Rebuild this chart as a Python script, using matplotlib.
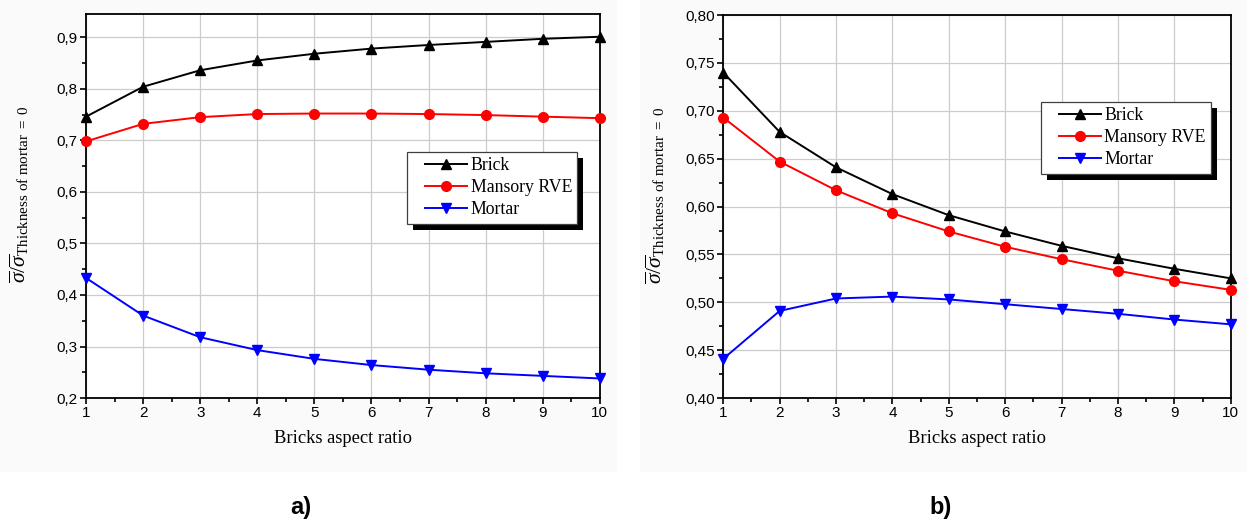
import matplotlib
matplotlib.use("Agg")
import matplotlib.pyplot as plt
from matplotlib.ticker import FuncFormatter, MultipleLocator
from matplotlib.patches import Rectangle
from matplotlib.legend_handler import HandlerLine2D

plt.rcParams['font.family'] = ['Liberation Sans', 'DejaVu Sans']
plt.rcParams['mathtext.fontset'] = 'custom'
plt.rcParams['mathtext.rm'] = 'Liberation Serif'
plt.rcParams['mathtext.it'] = 'Liberation Serif:italic'
plt.rcParams['mathtext.bf'] = 'Liberation Serif:bold'
plt.rcParams['mathtext.sf'] = 'Liberation Sans'

aspect_ratio = [1, 2, 3, 4, 5, 6, 7, 8, 9, 10]

# panel a)
brick_a = [0.746, 0.804, 0.836, 0.855, 0.868, 0.878, 0.885, 0.891, 0.897, 0.901]
masonry_a = [0.698, 0.732, 0.745, 0.751, 0.752, 0.752, 0.751, 0.749, 0.746, 0.743]
mortar_a = [0.433, 0.360, 0.318, 0.293, 0.276, 0.264, 0.255, 0.248, 0.243, 0.238]

# panel b)
brick_b = [0.740, 0.678, 0.641, 0.613, 0.591, 0.574, 0.559, 0.546, 0.535, 0.525]
masonry_b = [0.693, 0.647, 0.617, 0.593, 0.574, 0.558, 0.545, 0.533, 0.522, 0.513]
mortar_b = [0.441, 0.491, 0.504, 0.506, 0.503, 0.498, 0.493, 0.488, 0.482, 0.477]

labels = ["Brick", "Mansory RVE", "Mortar"]
panel_labels = ["a)", "b)"]

fig = plt.figure(figsize=(12.47, 5.21), dpi=100)
fig.patch.set_facecolor('white')

# faint backgrounds of the original panels
fig.patches.append(Rectangle((0.0, 0.095), 0.495, 0.905, transform=fig.transFigure,
                             facecolor='#fafafa', edgecolor='none', zorder=-5))
fig.patches.append(Rectangle((0.513, 0.095), 0.487, 0.905, transform=fig.transFigure,
                             facecolor='#fafafa', edgecolor='none', zorder=-5))

ax1 = fig.add_axes([0.069, 0.236, 0.412, 0.737])
ax2 = fig.add_axes([0.580, 0.236, 0.407, 0.735])

ylabel = r'$\overline{\sigma}/\overline{\sigma}_{\mathrm{Thickness\ of\ mortar\ =\ 0}}$'


def style(ax, ylim, major, minor, fmt, lx):
    ax.set_xlim(1, 10)
    ax.set_ylim(*ylim)
    ax.xaxis.set_major_locator(MultipleLocator(1))
    ax.xaxis.set_minor_locator(MultipleLocator(0.5))
    ax.yaxis.set_major_locator(MultipleLocator(major))
    ax.yaxis.set_minor_locator(MultipleLocator(minor))
    ax.yaxis.set_major_formatter(FuncFormatter(lambda v, p: fmt.format(v).replace('.', ',')))
    ax.grid(True, which='major', color='#cccccc', linewidth=0.9)
    ax.set_axisbelow(True)
    ax.tick_params(which='both', direction='out', labelsize=11, colors='black', width=1.2, pad=1.5)
    ax.tick_params(which='major', length=4.5)
    ax.tick_params(which='minor', length=3)
    for s in ax.spines.values():
        s.set_linewidth(1.3)
    ax.set_facecolor('white')
    ax.set_xlabel('Bricks aspect ratio', fontsize=13.3, family='Liberation Serif', labelpad=7)
    ax.set_ylabel(ylabel, fontsize=15.5)
    ax.yaxis.set_label_coords(lx, 0.53)


def plot_series(ax, b, m, mo):
    ax.plot(aspect_ratio, b, color='black', marker='^', markersize=7, linewidth=1.4, label=labels[0], clip_on=False, zorder=3)
    ax.plot(aspect_ratio, m, color='red', marker='o', markersize=7, linewidth=1.4, label=labels[1], clip_on=False, zorder=3)
    ax.plot(aspect_ratio, mo, color='blue', marker='v', markersize=7, linewidth=1.4, label=labels[2], clip_on=False, zorder=3)


plot_series(ax1, brick_a, masonry_a, mortar_a)
plot_series(ax2, brick_b, masonry_b, mortar_b)
style(ax1, (0.2, 0.945), 0.1, 0.05, '{:.1f}', -0.108)
style(ax2, (0.4, 0.80), 0.05, 0.025, '{:.2f}', -0.11)

legs = []
for ax, anchor in [(ax1, (0.625, 0.641)), (ax2, (0.626, 0.773))]:
    leg = ax.legend(loc='upper left', bbox_to_anchor=anchor, frameon=True, fancybox=False,
                    prop={'family': 'Liberation Serif', 'size': 12.8}, handlelength=3.05,
                    handletextpad=0.22, borderpad=0.3, labelspacing=0.28, borderaxespad=0,
                    edgecolor='#404040', framealpha=1,
                    handler_map={matplotlib.lines.Line2D: HandlerLine2D(xpad=0.7)})
    leg.get_frame().set_linewidth(0.9)
    leg.set_zorder(5)
    legs.append((ax, leg))

fig.canvas.draw()
for ax, leg in legs:
    bb = leg.get_window_extent()
    inv = ax.transAxes.inverted()
    (x0, y0), (x1, y1) = inv.transform([(bb.x0 + 6, bb.y0 - 6), (bb.x1 + 6, bb.y1 - 6)])
    ax.add_patch(Rectangle((x0, y0), x1 - x0, y1 - y0, transform=ax.transAxes,
                           facecolor='black', edgecolor='none', zorder=4, clip_on=False))

fig.text(0.2415, 0.025, panel_labels[0], fontsize=17, fontweight='bold', ha='center', va='center')
fig.text(0.7545, 0.025, panel_labels[1], fontsize=17, fontweight='bold', ha='center', va='center')

fig.savefig('out.png', dpi=100)
